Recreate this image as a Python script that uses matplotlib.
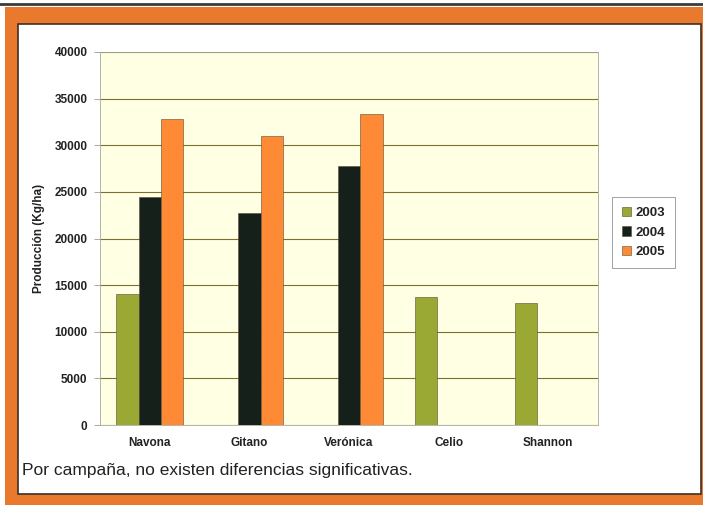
import numpy as np
import matplotlib
matplotlib.use("Agg")
import matplotlib.pyplot as plt
from matplotlib.patches import Rectangle
from matplotlib.lines import Line2D

plt.rcParams['font.family'] = ['Liberation Sans', 'DejaVu Sans']

# data
variedades = ["Navona", "Gitano", "Verónica", "Celio", "Shannon"]
years = ["2003", "2004", "2005"]
prod_2003 = [14000, 0, 0, 13700, 13100]
prod_2004 = [24400, 22700, 27800, 0, 0]
prod_2005 = [32800, 31000, 33400, 0, 0]
yticks = [0, 5000, 10000, 15000, 20000, 25000, 30000, 35000, 40000]

colors = ["#9aa834", "#16201a", "#ff8a35"]
W, H = 703, 507

fig = plt.figure(figsize=(W / 100, H / 100), dpi=100)
fig.patch.set_facecolor("white")

def fx(px):
    return px / W

def fy(py):
    return 1 - py / H

# top rule
fig.add_artist(Line2D([0, 1], [fy(3.5), fy(3.5)], color="#3a3a3a", lw=2, zorder=-3))
# orange frame
fig.add_artist(Rectangle((fx(5), fy(505)), fx(703 - 5), 498 / H,
                         facecolor="#e9792c", edgecolor="none", zorder=-3))
# inner white panel
fig.add_artist(Rectangle((fx(18), fy(494)), fx(701 - 18), 470 / H,
                         facecolor="white", edgecolor="#3b3028", lw=1.2, zorder=-2))

ax = fig.add_axes([fx(100), fy(425), fx(598 - 100), (425 - 52) / H])
ax.set_zorder(5)
ax.set_facecolor("#ffffe4")

x = np.arange(len(variedades))
bw = 0.225
series = [prod_2003, prod_2004, prod_2005]
for i, vals in enumerate(series):
    ax.bar(x + (i - 1) * bw, vals, width=bw, color=colors[i],
           edgecolor="#5a4a30", linewidth=0.4, label=years[i], zorder=3)

ax.set_xlim(-0.5, len(variedades) - 0.5)
ax.set_ylim(0, 40000)
ax.set_yticks(yticks)
ax.set_yticklabels([str(v) for v in yticks], fontsize=8.5, fontweight="bold",
                   color="#222222")
ax.set_xticks(x)
ax.set_xticklabels(variedades, fontsize=8.5, fontweight="bold", color="#222222")
ax.tick_params(axis="x", length=0, pad=9)
ax.tick_params(axis="y", length=4, width=0.6, color="#999999", pad=5)
ax.yaxis.grid(True, color="#7d6f2e", lw=0.8, zorder=0)
ax.set_axisbelow(True)
for s in ax.spines.values():
    s.set_color("#a8a89a")
    s.set_linewidth(0.6)

ax.set_ylabel("Producción (Kg/ha)", fontsize=8.5, fontweight="bold",
              color="#222222", labelpad=7)

leg = ax.legend(loc="upper left",
                bbox_to_anchor=((612 - 100) / 498, (425 - 197) / 373),
                frameon=True, fancybox=False,
                prop={"weight": "bold", "size": 9.5},
                handlelength=0.7, handleheight=0.7, handletextpad=0.3,
                borderpad=0.75, labelspacing=0.55, borderaxespad=0)
leg._legend_box.align = "right"
leg.get_frame().set_edgecolor("#777777")
leg.get_frame().set_linewidth(0.6)
for t in leg.get_texts():
    t.set_color("#222222")

fig.text(fx(22), fy(471), "Por campaña, no existen diferencias significativas.",
         fontsize=12.5, color="#222222", va="center")

fig.savefig("out.png", dpi=100)
